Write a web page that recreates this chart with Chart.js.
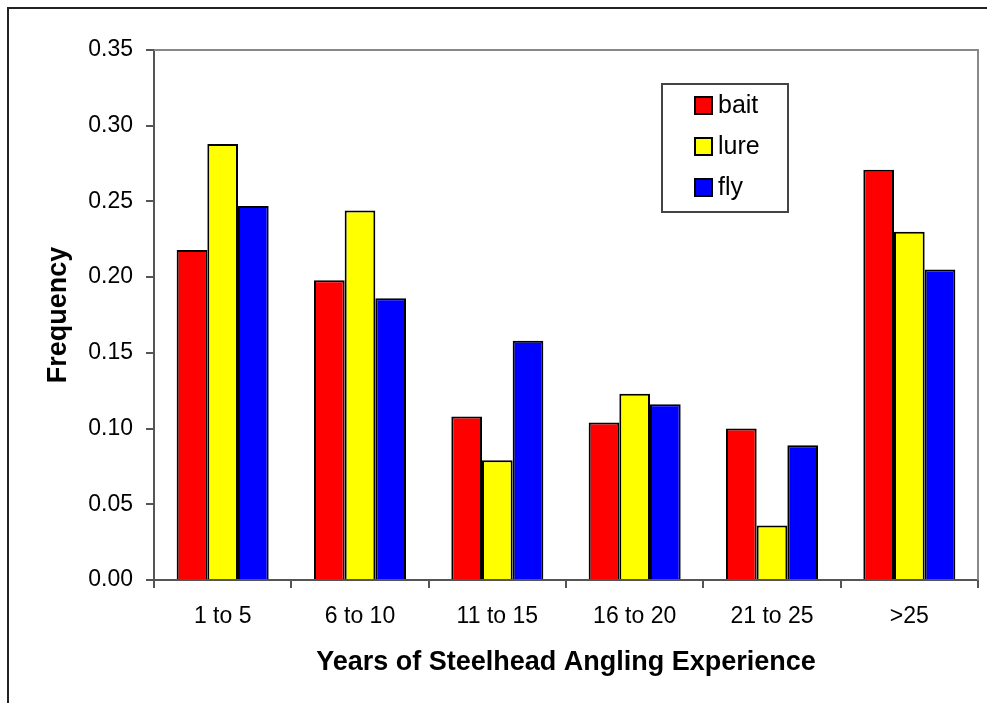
<!DOCTYPE html>
<html>
<head>
<meta charset="utf-8">
<script src="https://cdn.jsdelivr.net/npm/chart.js@4"></script>
<style>
    body { margin: 0; background: #fff; }
    canvas { display: block; }
</style>
</head>
<body>
<canvas id="chart" width="987" height="703"></canvas>
<script>
const categories = ['1 to 5', '6 to 10', '11 to 15', '16 to 20', '21 to 25', '>25'];
const bait = [0.218, 0.198, 0.108, 0.104, 0.100, 0.271];
const lure = [0.288, 0.244, 0.079, 0.123, 0.036, 0.230];
const fly = [0.247, 0.186, 0.158, 0.116, 0.089, 0.205];
const yTicks = [0, 0.05, 0.10, 0.15, 0.20, 0.25, 0.30, 0.35];

const font = 'Arial, "Liberation Sans", sans-serif';

// outer frame and the grey box around the plot
const framePlugin = {
    id: 'frame',
    beforeDraw(chart) {
        const c = chart.ctx;
        c.save();
        c.fillStyle = '#fff';
        c.fillRect(0, 0, chart.width, chart.height);
        c.strokeStyle = '#222';
        c.lineWidth = 2;
        c.beginPath();
        c.moveTo(8, chart.height);
        c.lineTo(8, 8);
        c.lineTo(chart.width, 8);
        c.stroke();
        c.restore();
    },
    afterDatasetsDraw(chart) {
        const a = chart.chartArea;
        const c = chart.ctx;
        c.save();
        c.strokeStyle = '#888';
        c.lineWidth = 2;
        c.beginPath();
        c.moveTo(a.left, a.top);
        c.lineTo(a.right, a.top);
        c.lineTo(a.right, a.bottom);
        c.stroke();
        c.restore();
    }
};

// boxed legend inside the plot, like the original
const boxLegend = {
    id: 'boxLegend',
    afterDraw(chart) {
        const c = chart.ctx;
        c.save();
        c.strokeStyle = '#444';
        c.lineWidth = 2;
        c.strokeRect(662, 84, 126, 128);
        c.font = '25px ' + font;
        c.textBaseline = 'middle';
        chart.data.datasets.forEach(function (ds, i) {
            const y = 105.5 + i * 41;
            c.fillStyle = ds.backgroundColor;
            c.fillRect(695, y - 8.5, 17, 17);
            c.strokeStyle = '#000';
            c.lineWidth = 2;
            c.strokeRect(695, y - 8.5, 17, 17);
            c.fillStyle = '#000';
            c.fillText(ds.label, 718, y + 1);
        });
        c.restore();
    }
};

const ctx = document.getElementById('chart').getContext('2d');
const myChart = new Chart(ctx, {
    type: 'bar',
    data: {
        labels: categories,
        datasets: [
            { label: 'bait', data: bait, backgroundColor: '#ff0000' },
            { label: 'lure', data: lure, backgroundColor: '#ffff00' },
            { label: 'fly', data: fly, backgroundColor: '#0000ff' }
        ]
    },
    options: {
        responsive: false,
        animation: false,
        layout: { padding: { top: 50, right: 9, left: 0, bottom: 0 } },
        datasets: {
            bar: {
                borderColor: '#000',
                borderWidth: 2,
                barPercentage: 1,
                categoryPercentage: 0.67
            }
        },
        scales: {
            x: {
                grid: { drawOnChartArea: false, tickLength: 8, color: '#555', lineWidth: 2 },
                border: { color: '#555', width: 2 },
                ticks: { color: '#000', padding: 15, font: { family: font, size: 23 } },
                title: {
                    display: true,
                    text: 'Years of Steelhead Angling Experience',
                    color: '#000',
                    font: { family: font, size: 27, weight: 'bold' },
                    padding: { top: 1, bottom: 24 }
                }
            },
            y: {
                min: 0,
                max: 0.35,
                afterBuildTicks(scale) {
                    scale.ticks = yTicks.map(v => ({ value: v }));
                },
                afterFit(scale) {
                    scale.width = 154;
                },
                grid: { drawOnChartArea: false, tickLength: 8, color: '#555', lineWidth: 2 },
                border: { color: '#555', width: 2 },
                ticks: {
                    color: '#000',
                    padding: 13,
                    font: { family: font, size: 23 },
                    callback: v => v.toFixed(2)
                },
                title: {
                    display: true,
                    text: 'Frequency',
                    color: '#000',
                    font: { family: font, size: 27, weight: 'bold' },
                    padding: { top: 42, bottom: 0 }
                }
            }
        },
        plugins: {
            legend: { display: false },
            tooltip: { enabled: false }
        }
    },
    plugins: [framePlugin, boxLegend]
});
</script>
</body>
</html>
